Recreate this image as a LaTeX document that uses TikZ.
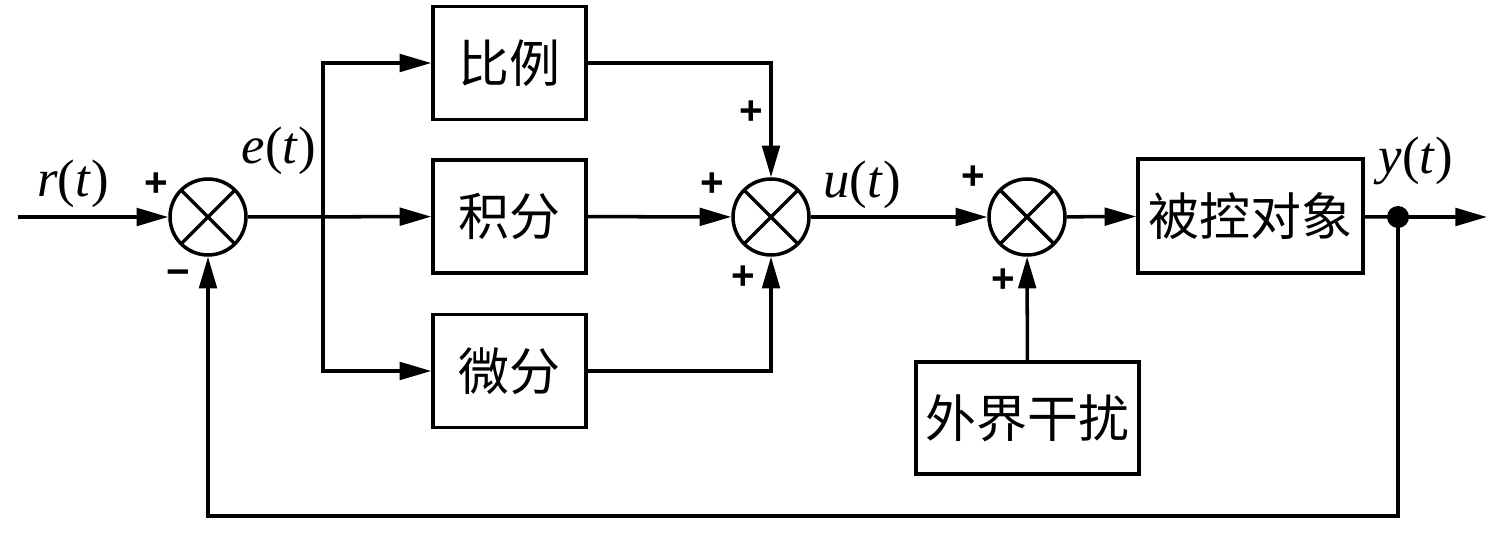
\documentclass[tikz,border=0pt]{standalone}
\usepackage{fontspec}
\setmainfont{Liberation Serif}
\newfontfamily\cjk{Noto Sans CJK SC}
\newfontfamily\signfont{Liberation Sans}
\usetikzlibrary{arrows.meta,positioning}
\tikzset{
  every node/.style={
    font=\fontsize{30}{32}\selectfont
  },
  block/.style={
    shape=rectangle,
    draw,
    line width=2pt,
    minimum width=3.06cm,
    minimum height=2.26cm,
    inner sep=0pt,
    font=\cjk\fontsize{29}{31}\selectfont
  },
  sumnode/.style={
    shape=circle,
    draw,
    line width=2pt,
    minimum size=1.52cm,
    inner sep=0pt,
    path picture={
      \draw[line width=2pt] (path picture bounding box.north west) -- (path picture bounding box.south east);
      \draw[line width=2pt] (path picture bounding box.north east) -- (path picture bounding box.south west);
    }
  },
  sign/.style={
    inner sep=0pt,
    font=\signfont\bfseries\fontsize{23}{23}\selectfont
  },
  junction/.style={
    shape=circle,
    fill,
    minimum size=0.44cm,
    inner sep=0pt
  },
  line/.style={
    line width=2pt
  },
  arr/.style={
    line width=2pt,
    -{Triangle[length=18pt,width=10pt]}
  }
}

\begin{document}
\begin{tikzpicture}[x=0.02cm,y=-0.02cm]
  \useasboundingbox (0,0) rectangle (1507,533);
  % summing points
  \node [sumnode] (s1) at (208,217) {};
  \node [sumnode] (s2) at (771,217) {};
  \node [sumnode] (s3) at (1027,217) {};
  % PID blocks
  \node [block] (jifen) at (509.5,216.5) {积分};
  \node [block, above=0.74cm of jifen] (bili) {比例};
  \node [block, below=0.76cm of jifen] (weifen) {微分};
  \node [block, minimum width=4.5cm, minimum height=2.28cm] (plant) at (1250.5,216) {被控对象};
  \node [block, minimum width=4.46cm, minimum height=2.24cm] (rao) at (1027.5,418) {外界干扰};
  \node [junction] (dot) at (1398,217) {};
  % helper points
  \coordinate (in) at (18,217);
  \coordinate (br) at (323,217);
  \coordinate (out) at (1487,217);
  \coordinate (fb) at (208,516);
  % signals
  \node (r) at (73,184) {\textit{r}(\textit{t})};
  \node (e) at (279,151) {\textit{e}(\textit{t})};
  \node (u) at (862,185) {\textit{u}(\textit{t})};
  \node (y) at (1416,161) {\textit{y}(\textit{t})};
  % signs
  \node [sign] (p1) at (156,185) {+};
  \node [sign] (m1) at (178,278) {−};
  \node [sign] (p2) at (751,113) {+};
  \node [sign] (p3) at (712,185) {+};
  \node [sign] (p4) at (743,278) {+};
  \node [sign] (p5) at (973,178) {+};
  \node [sign] (p6) at (1003,281) {+};
  % connectors
  \draw [arr] (in) -- (s1);
  \draw [arr] (s1) -- (jifen);
  \draw [arr] (br) |- (bili.west);
  \draw [arr] (br) |- (weifen.west);
  \draw [arr] (bili.east) -| (s2.north);
  \draw [arr] (jifen) -- (s2);
  \draw [arr] (weifen.east) -| (s2.south);
  \draw [arr] (s2) -- (s3);
  \draw [arr] (s3) -- (plant);
  \draw [arr] (rao) -- (s3);
  \draw [line] (plant) -- (dot.center);
  \draw [arr] (dot.center) -- (out);
  \draw [arr] (dot.center) |- (fb) -- (s1);
\end{tikzpicture}
\end{document}
